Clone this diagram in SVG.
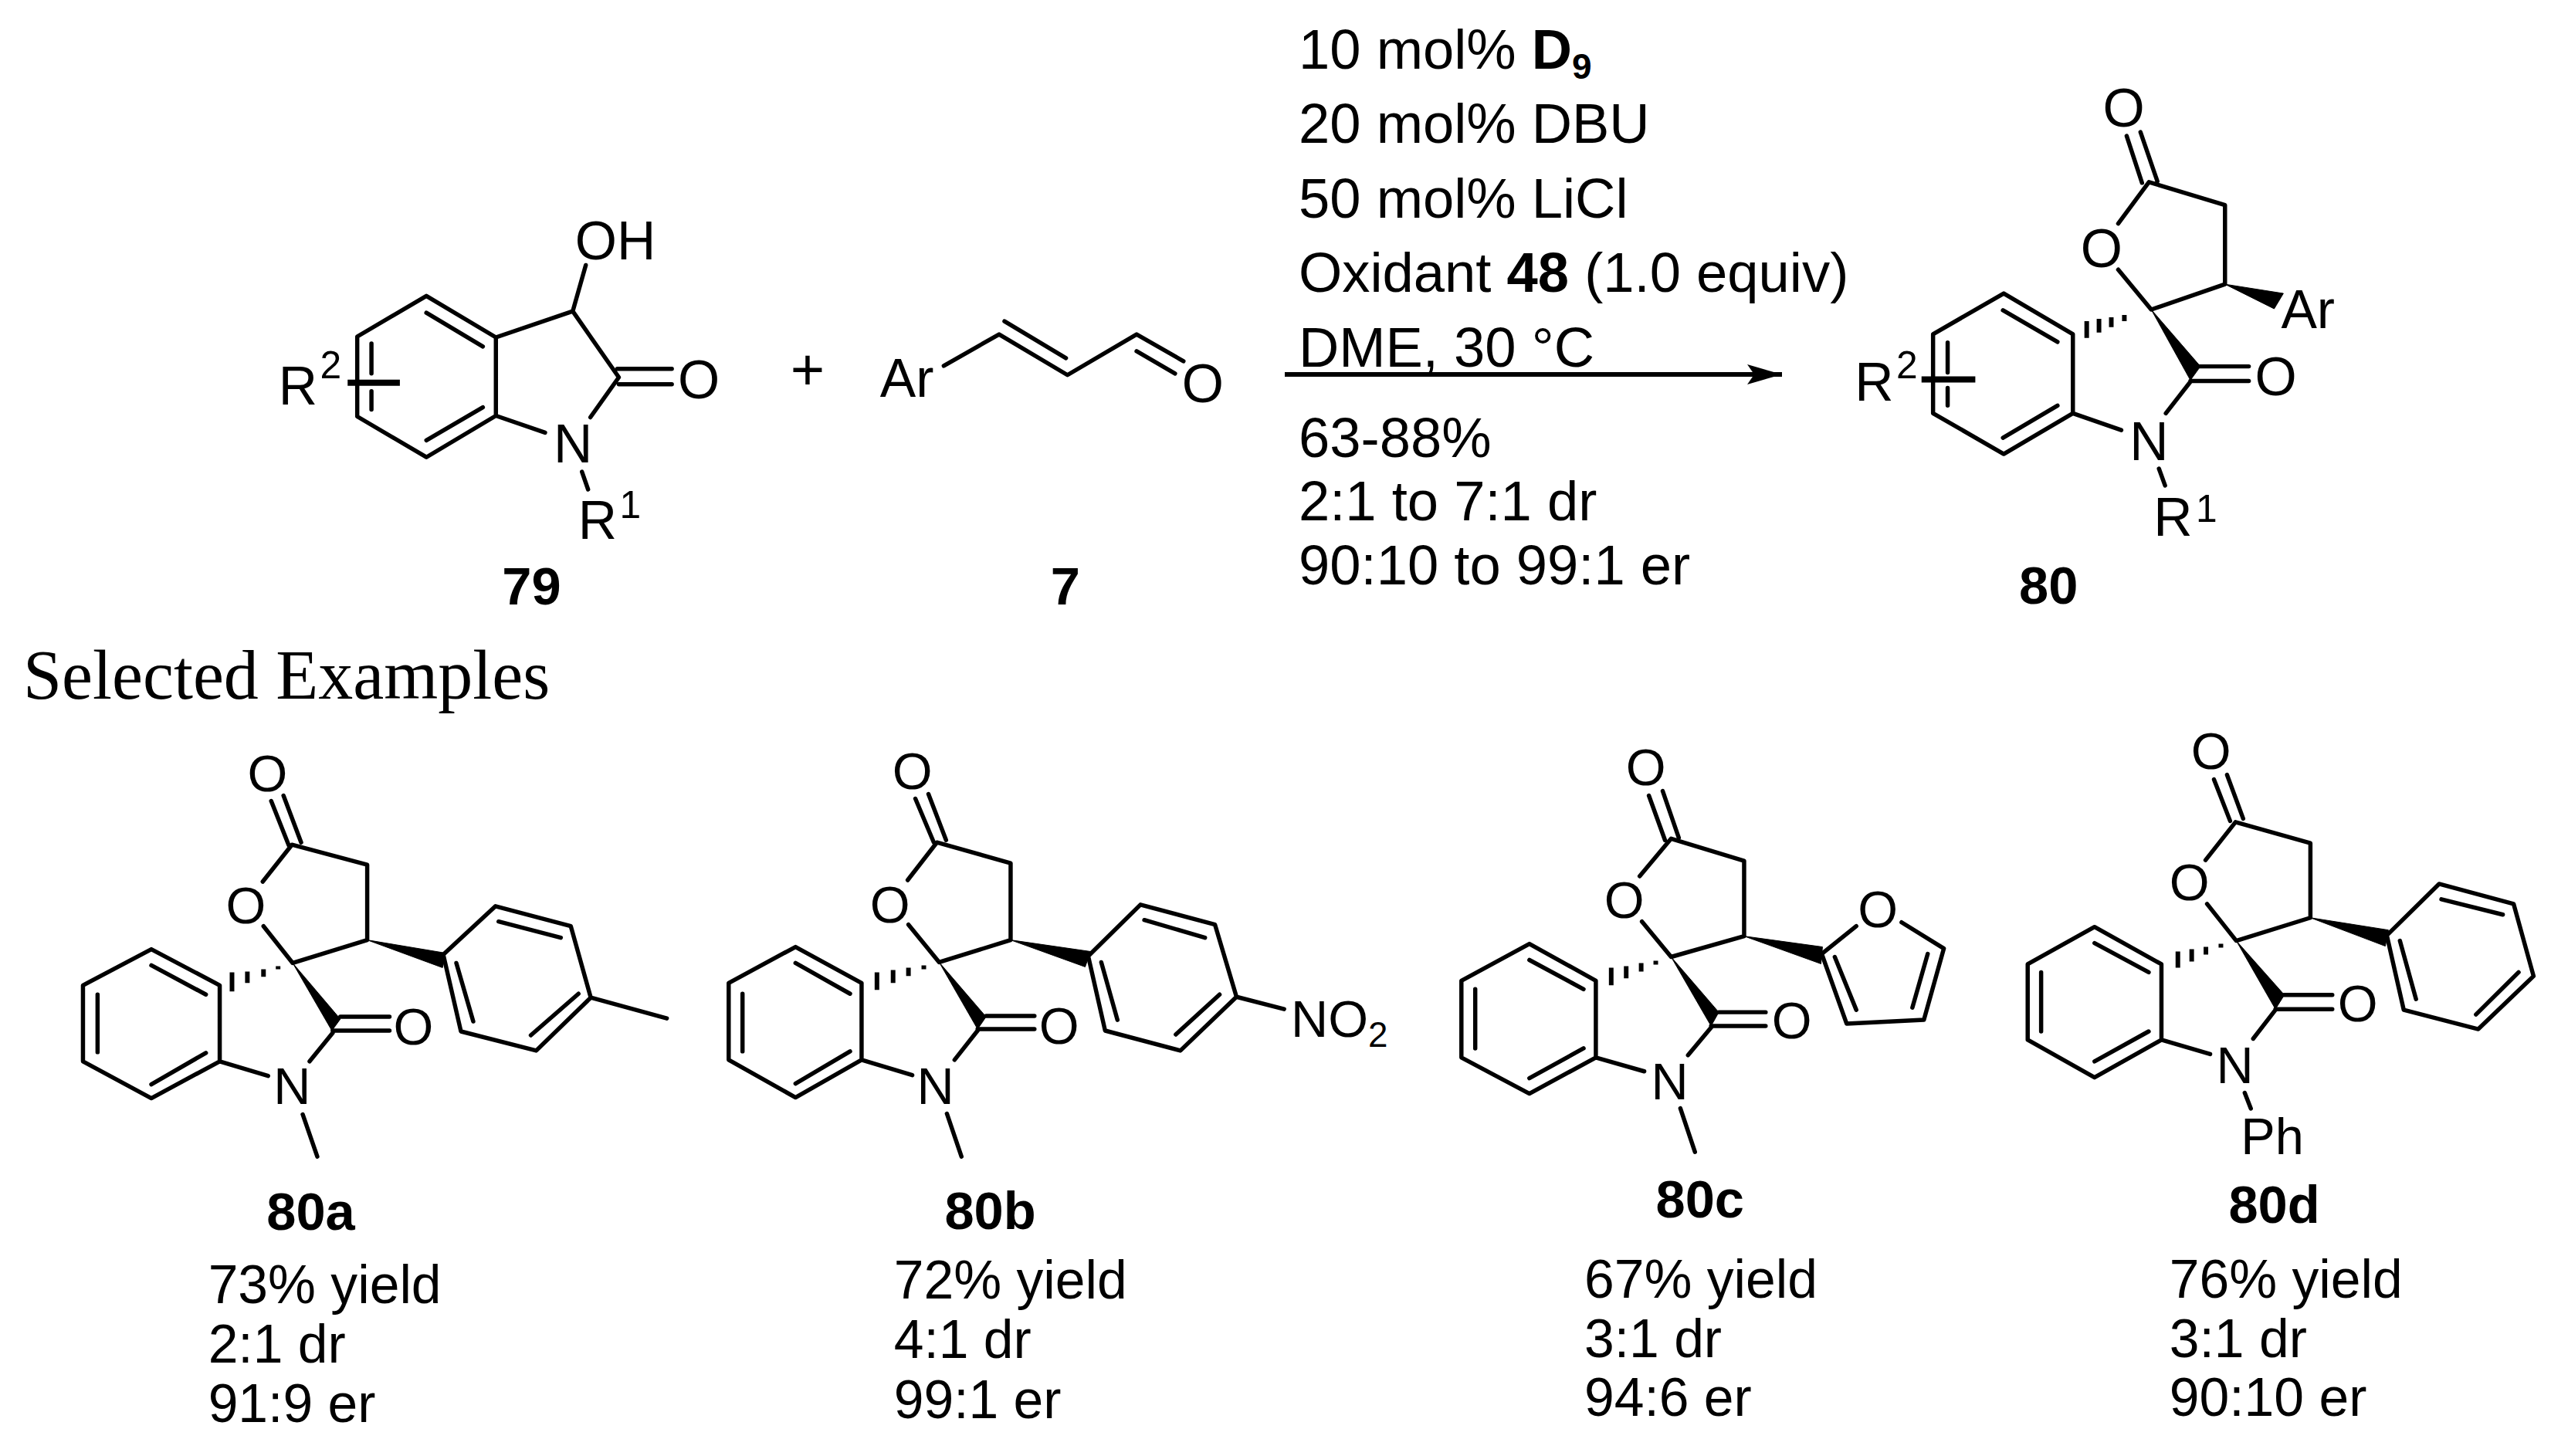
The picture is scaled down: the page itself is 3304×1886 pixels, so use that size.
<svg xmlns="http://www.w3.org/2000/svg" width="3304" height="1886" viewBox="0 0 3304 1886">
<style>
text{font-family:"Liberation Sans",Arial,sans-serif;fill:#000}
.b{fill:none;stroke:#000;stroke-width:5.5;stroke-linecap:round;stroke-linejoin:round}
.t{fill:none;stroke:#000;stroke-width:8;stroke-linecap:butt}
.h{fill:none;stroke:#000;stroke-width:6;stroke-linecap:butt}
.w{fill:#000;stroke:#000;stroke-width:1;stroke-linejoin:round}
.a{font-size:70px}
.p{font-size:67px}
.s{font-size:50px}
.r{font-size:72.400px}
.y{font-size:70px}
.l{font-size:69px;font-weight:700}
.bd{font-weight:700}
.serif{font-family:"Liberation Serif","Times New Roman",serif;font-size:90px}
</style>
<defs>
<marker id="head" markerUnits="userSpaceOnUse" markerWidth="46" markerHeight="26" refX="45" refY="13" orient="auto"><path d="M0 0L45 13L0 26L9 13Z" fill="#000"/></marker>
</defs>
<rect width="3304" height="1886" fill="#fff"/>

<g id="connectors">
<path id="reaction-arrow" d="M1664 485H2308" fill="none" stroke="#000" stroke-width="6" marker-end="url(#head)"/>
</g>

<g id="compound-79" transform="translate(1.500,1.200) scale(.995)">
<path class="b" d="M553.5 384L644 438V540L553.5 594L463.5 541V437ZM553.5 406L627 450M627 529L553.5 572M482 446V485M482 508V532M644 438L744 404L804 490L767 542M644 540L708 562M744 404L761 344M802 479H873M804 499H873M756 613L764 636"/>
<path class="t" d="M451 497H519"/>
<text class="a" x="747" y="336">OH</text>
<text class="a" x="881" y="517">O</text>
<text class="a" x="719" y="601">N</text>
<text class="a" x="751" y="700">R</text>
<text class="s" x="805" y="673">1</text>
<text class="a" x="361" y="525">R</text>
<text class="s" x="415" y="491">2</text>
<text class="l" x="652" y="786">79</text>
</g>

<g id="plus"><text x="1046" y="505" font-size="76" text-anchor="middle">+</text></g>

<g id="compound-7" transform="translate(1.500,1.200) scale(.995)">
<path class="b" d="M1227 475L1299 434L1388 487L1478 434L1539 469M1306 417L1386 465M1478 456L1528 485"/>
<text class="a" x="1144" y="515">Ar</text>
<text class="a" x="1537" y="522">O</text>
<text class="l" x="1366" y="786">7</text>
</g>

<g id="conditions">
<text class="r" x="1682" y="89">10 mol% <tspan class="bd">D</tspan><tspan class="bd" font-size="46" dy="13">9</tspan></text>
<text class="r" x="1682" y="185">20 mol% DBU</text>
<text class="r" x="1682" y="282">50 mol% LiCl</text>
<text class="r" x="1682" y="378">Oxidant <tspan class="bd">48</tspan> (1.0 equiv)</text>
<text class="r" x="1682" y="475">DME, 30 °C</text>
<text class="r" x="1682" y="592">63-88%</text>
<text class="r" x="1682" y="674">2:1 to 7:1 dr</text>
<text class="r" x="1682" y="757">90:10 to 99:1 er</text>
</g>

<g id="compound-80" transform="translate(8.200,0) scale(.995)">
<path class="b" d="M2600 382L2690 435V538L2600 591L2508 538V435ZM2599 404L2670 445M2670 528L2599 570M2527 446V485M2527 505V528M2760 177L2780 238M2778 172L2800 236M2749 291L2789 237L2888 267V370L2792 403L2749 351M2854 477H2919M2843 496H2919M2843 497L2811 538M2690 538L2753 560M2802 610L2810 632"/>
<polygon class="w" points="2888,370 2964,382 2952,402"/>
<polygon class="w" points="2792,403 2856,477 2843,495"/>
<path class="h" d="M2708 418V440M2724 415V433M2740 413V426M2757 410V418"/>
<path class="t" d="M2493 494H2563"/>
<text class="a" x="2729" y="165">O</text>
<text class="a" x="2700" y="348">O</text>
<text class="a" x="2961" y="427">Ar</text>
<text class="a" x="2927" y="515">O</text>
<text class="a" x="2764" y="599">N</text>
<text class="a" x="2795" y="697">R</text>
<text class="s" x="2850" y="679">1</text>
<text class="a" x="2406" y="522">R</text>
<text class="s" x="2460" y="492">2</text>
<text class="l" x="2620" y="786">80</text>
</g>

<g id="heading"><text class="serif" x="30" y="905">Selected Examples</text></g>

<g id="compound-80a" transform="translate(0,4.700) scale(.995)">
<path class="b" d="M197 1231L286 1278V1377L197 1425L108 1377V1278ZM197 1252L268 1290M268 1366L197 1407M127 1290V1365M353 1038L376 1096M369 1031L392 1092M342 1143L380 1095L478 1121V1219L381 1249L343 1201M443 1319H507M433 1337H507M433 1340L403 1377M286 1377L349 1396M394 1446L413 1501"/>
<path class="b" d="M577 1238L645 1175L743 1201L769 1294L698 1363L600 1338ZM649 1195L730 1216M691 1343L753 1289M594 1249L616 1325M769 1294L868 1321"/>
<polygon class="w" points="478,1219 580,1236 576,1255"/>
<polygon class="w" points="381,1249 443,1322 432,1337"/>
<path class="h" d="M302 1261V1286M322 1260V1275M343 1257V1267M362 1253V1257"/>
<text class="p" x="322" y="1025">O</text>
<text class="p" x="294" y="1197">O</text>
<text class="p" x="512" y="1355">O</text>
<text class="p" x="356" y="1432">N</text>
<text class="l" x="347" y="1596">80a</text>
<text class="y" x="271" y="1692">73% yield</text>
<text class="y" x="271" y="1769">2:1 dr</text>
<text class="y" x="271" y="1847">91:9 er</text>
</g>

<g id="compound-80b" transform="translate(4.500,4.700) scale(.995)">
<path class="b" d="M1031 1228L1117 1275V1375L1031 1424L944 1375V1275ZM1031 1249L1102 1289M1102 1364L1031 1406M962 1289V1364M1187 1035L1211 1092M1204 1029L1227 1089M1177 1141L1215 1092L1311 1119V1219L1218 1248L1178 1199M1279 1318H1342M1268 1335H1342M1268 1337L1238 1375M1117 1375L1183 1395M1228 1445L1247 1501"/>
<path class="b" d="M1412 1240L1480 1173L1577 1199L1605 1293L1532 1363L1434 1337ZM1485 1193L1564 1216M1526 1342L1583 1290M1429 1248L1450 1323M1605 1293L1667 1309"/>
<polygon class="w" points="1311,1219 1415,1234 1408,1254"/>
<polygon class="w" points="1218,1248 1279,1319 1268,1335"/>
<path class="h" d="M1137 1261V1284M1158 1258V1275M1178 1255V1266M1198 1252V1257"/>
<text class="p" x="1157" y="1022">O</text>
<text class="p" x="1128" y="1196">O</text>
<text class="p" x="1348" y="1354">O</text>
<text class="p" x="1189" y="1432">N</text>
<text class="p" x="1676" y="1345">NO<tspan font-size="46" dy="13">2</tspan></text>
<text class="l" x="1225" y="1595">80b</text>
<text class="y" x="1159" y="1686">72% yield</text>
<text class="y" x="1159" y="1763">4:1 dr</text>
<text class="y" x="1159" y="1842">99:1 er</text>
</g>

<g id="compound-80c" transform="translate(9.250,4.700) scale(.995)">
<path class="b" d="M1981.5 1224L2068 1272V1372L1981.5 1419L1893 1372V1272ZM1981.5 1245L2052 1283M2052 1360L1981.5 1399M1911 1283V1360M2137 1031L2158 1089M2155 1025L2176 1086M2125 1136L2166 1087L2261 1116V1214L2166 1241L2128 1195M2228 1313H2289M2218 1331H2289M2218 1333L2188 1369M2068 1372L2131 1390M2178 1438L2197 1495"/>
<path class="b" d="M2407 1201L2362 1237L2394.500 1328L2495 1323L2521 1230L2466 1196M2379 1241L2407 1310M2500 1237L2480 1307"/>
<polygon class="w" points="2261,1214 2363,1228 2361,1250"/>
<polygon class="w" points="2166,1241 2228,1313 2218,1331"/>
<path class="h" d="M2088 1255V1278M2107.500 1253V1269M2127 1249V1260M2146 1246V1251"/>
<text class="p" x="2107" y="1017">O</text>
<text class="p" x="2079" y="1190">O</text>
<text class="p" x="2409" y="1202">O</text>
<text class="p" x="2297" y="1347">O</text>
<text class="p" x="2140" y="1426">N</text>
<text class="l" x="2146" y="1580">80c</text>
<text class="y" x="2053" y="1685">67% yield</text>
<text class="y" x="2053" y="1762">3:1 dr</text>
<text class="y" x="2053" y="1839">94:6 er</text>
</g>

<g id="compound-80d" transform="translate(12.850,4.700) scale(.995)">
<path class="b" d="M2713.500 1202L2800.600 1250.500V1349L2713.500 1398L2626.500 1349V1250.500ZM2713.500 1223L2784 1261M2784 1338L2713.500 1377M2644 1261V1338M2869 1010L2890 1064M2886 1004L2907 1061M2858 1115L2897 1065.500L2994.500 1093V1190L2898 1220L2860 1172M2960 1290.500H3023M2949 1309H3023M2949 1310L2920 1347.500M2800.600 1349L2864 1367.500M2909 1418L2917 1438.500"/>
<path class="b" d="M3094 1213L3162 1146L3259 1172L3285 1266L3213 1335L3116 1310ZM3165 1166L3245 1186M3210 1316L3265.500 1261M3111 1220L3132 1296"/>
<polygon class="w" points="2994.500,1190 3096,1206 3092,1227"/>
<polygon class="w" points="2898,1220 2960.600,1290.500 2949,1309"/>
<path class="h" d="M2822 1234V1255M2840 1231V1247M2858.500 1228V1238M2878 1224V1229"/>
<text class="p" x="2839" y="996">O</text>
<text class="p" x="2811" y="1167">O</text>
<text class="p" x="3030" y="1325">O</text>
<text class="p" x="2872" y="1405">N</text>
<text class="p" x="2904" y="1498">Ph</text>
<text class="l" x="2888" y="1587">80d</text>
<text class="y" x="2811" y="1685">76% yield</text>
<text class="y" x="2811" y="1762">3:1 dr</text>
<text class="y" x="2811" y="1839">90:10 er</text>
</g>
</svg>
